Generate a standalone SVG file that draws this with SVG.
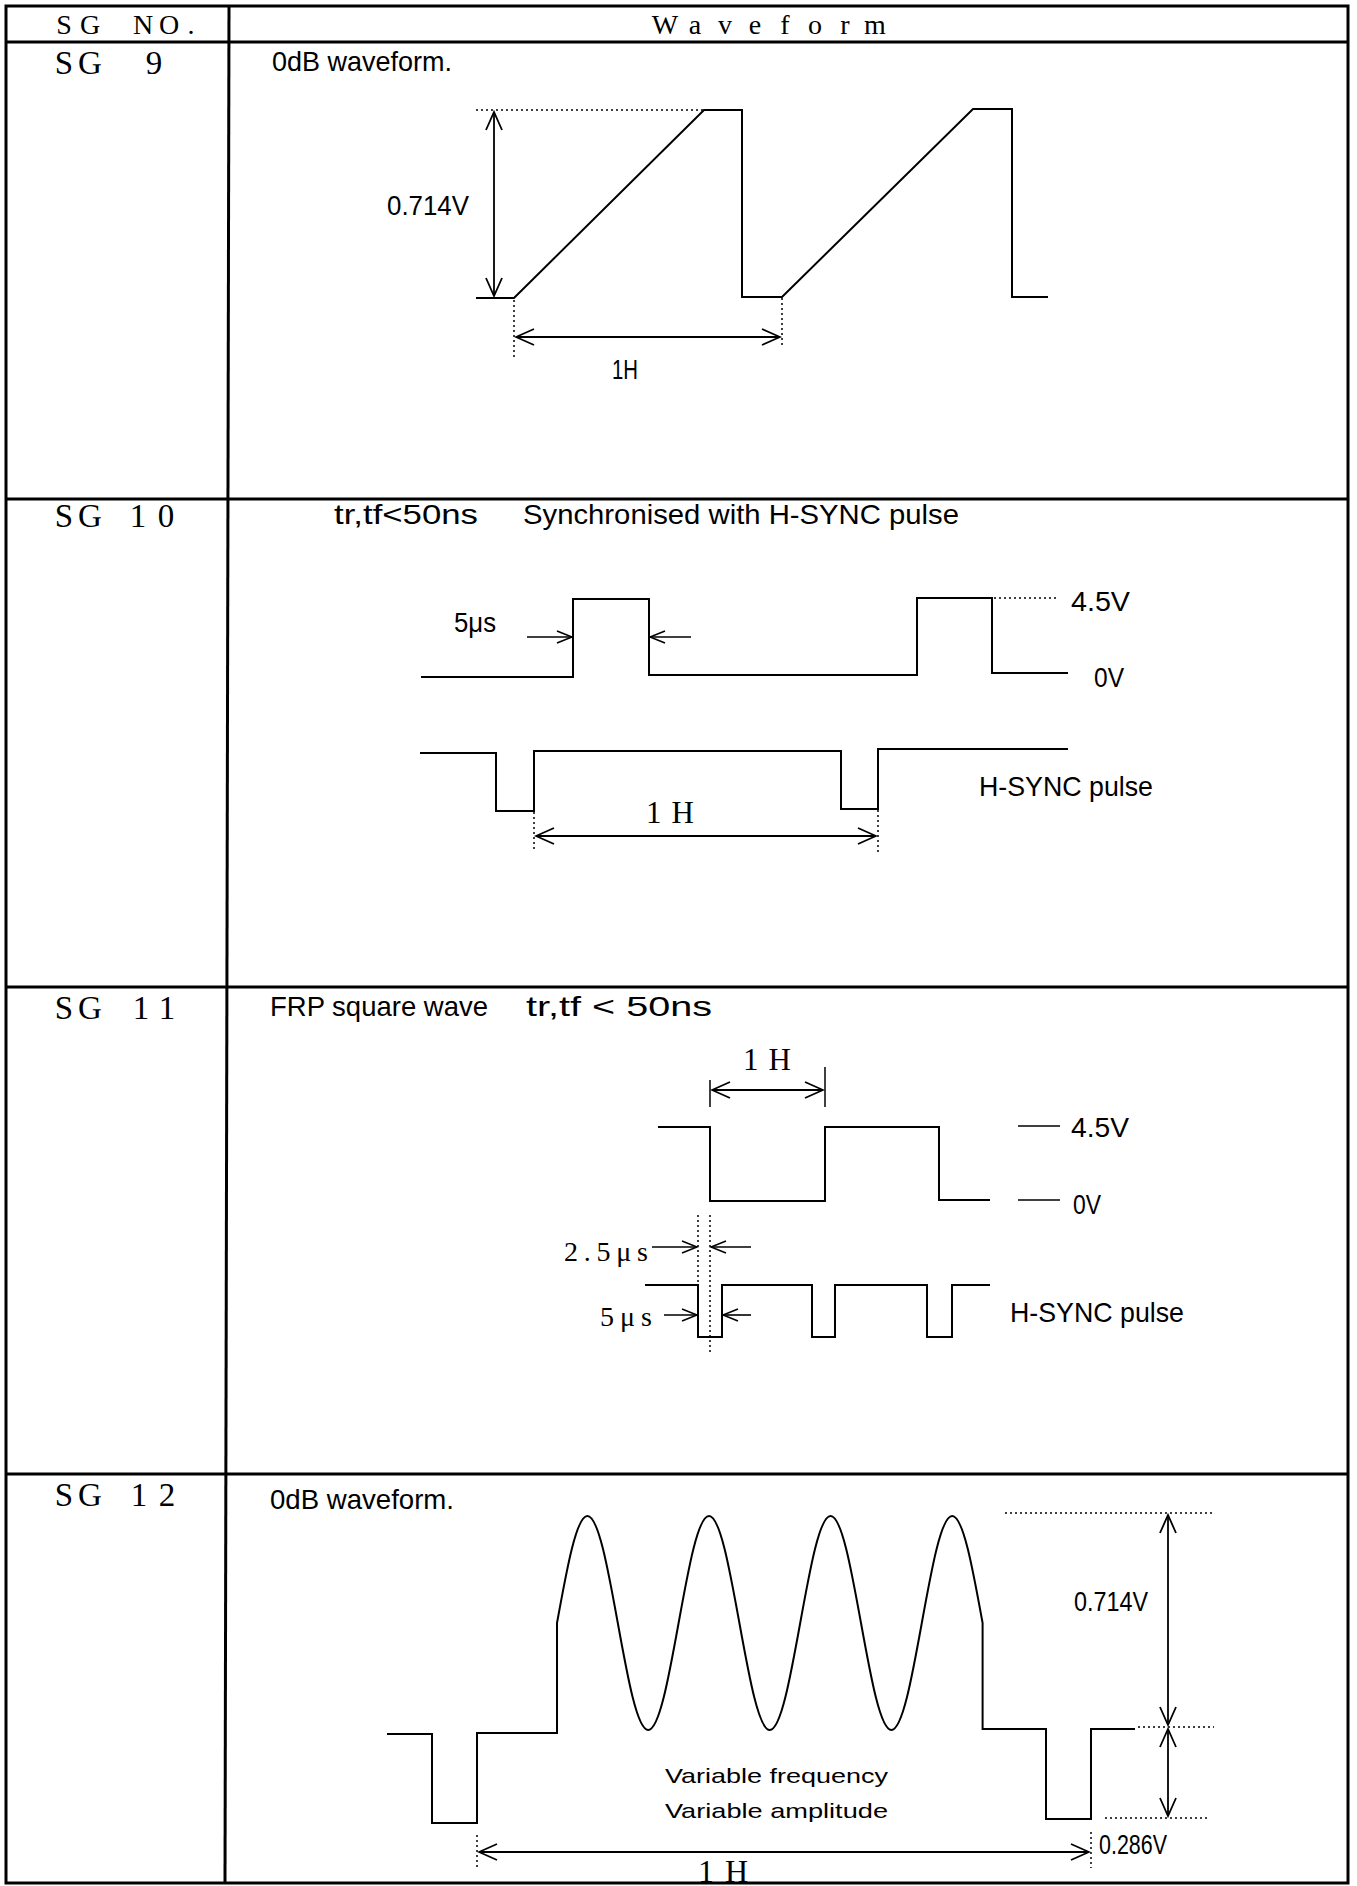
<svg xmlns="http://www.w3.org/2000/svg" width="1357" height="1886" viewBox="0 0 1357 1886">
<style>
.t{font-family:"Liberation Sans Narrow","Liberation Sans",sans-serif;font-size:28px;fill:#000}
.v{font-family:"Liberation Sans Narrow","Liberation Sans",sans-serif;font-size:21px;fill:#000}
.s{font-family:"Liberation Serif",serif;fill:#000}
.lab{font-size:33px;text-anchor:middle}
.hd{font-size:28px;text-anchor:middle}
.grid{fill:none;stroke:#000;stroke-width:3}
.w{fill:none;stroke:#000;stroke-width:2;stroke-linejoin:miter}
.d{fill:none;stroke:#000;stroke-width:1.5;stroke-dasharray:2 3}
.a2{fill:none;stroke:#000;stroke-width:1.8;marker-start:url(#ah);marker-end:url(#ah)}
.a1{fill:none;stroke:#000;stroke-width:1.6;marker-end:url(#ahs)}
.tk{fill:none;stroke:#000;stroke-width:1.5}
</style>
<defs>
<marker id="ah" viewBox="-20 -10 22 20" refX="0" refY="0" markerWidth="22" markerHeight="20" markerUnits="userSpaceOnUse" orient="auto-start-reverse">
<path d="M-18,-8 L0,0 L-18,8" fill="none" stroke="#000" stroke-width="1.8"/>
</marker>
<marker id="ahs" viewBox="-20 -10 22 20" refX="0" refY="0" markerWidth="22" markerHeight="20" markerUnits="userSpaceOnUse" orient="auto">
<path d="M-15,-6 L0,0 L-15,6" fill="none" stroke="#000" stroke-width="1.6"/>
</marker>
</defs>
<rect width="1357" height="1886" fill="#fff"/>

<g id="table">
<rect class="grid" x="6" y="6" width="1342" height="1877"/>
<line class="grid" x1="229" y1="6" x2="225" y2="1883"/>
<line class="grid" x1="6" y1="42" x2="1348" y2="42"/>
<line class="grid" x1="6" y1="499" x2="1348" y2="499"/>
<line class="grid" x1="6" y1="987" x2="1348" y2="987"/>
<line class="grid" x1="6" y1="1474" x2="1348" y2="1474"/>
</g>

<g id="header">
<text class="s hd" x="64 90 120 143 169 191" y="34">SG NO.</text>
<text class="s hd" x="665 695 725 755 785 815 845 875" y="34">Waveform</text>
</g>

<g id="sg9">
<text class="s lab" x="64 90 120 154" y="74">SG 9</text>
<text class="t" x="272" y="71" textLength="180" lengthAdjust="spacingAndGlyphs">0dB waveform.</text>
<line class="d" x1="476" y1="110" x2="704" y2="110"/>
<path class="w" d="M476 298 H514 L704 110 H742 V297 H782 L973 109 H1012 V297 H1048"/>
<line class="a2" x1="494" y1="112" x2="494" y2="296"/>
<line class="d" x1="514" y1="300" x2="514" y2="357"/>
<line class="d" x1="782" y1="298" x2="782" y2="348"/>
<line class="a2" x1="516" y1="337" x2="780" y2="337"/>
<text class="t" x="387" y="215" textLength="82" lengthAdjust="spacingAndGlyphs">0.714V</text>
<text class="t" x="612" y="379" textLength="26" lengthAdjust="spacingAndGlyphs">1H</text>
</g>

<g id="sg10">
<text class="s lab" x="64 90 120 138 166" y="527">SG 10</text>
<text class="t" x="334" y="524" textLength="144" lengthAdjust="spacingAndGlyphs">tr,tf&lt;50ns</text>
<text class="t" x="523" y="524" textLength="436" lengthAdjust="spacingAndGlyphs">Synchronised with H-SYNC pulse</text>
<path class="w" d="M421 677 H573 V599 H649 V675 H917 V598 H992 V673 H1068"/>
<line class="d" x1="994" y1="598" x2="1059" y2="598"/>
<text class="t" x="1071" y="611" textLength="59" lengthAdjust="spacingAndGlyphs">4.5V</text>
<text class="t" x="1094" y="687" textLength="30" lengthAdjust="spacingAndGlyphs">0V</text>
<text class="t" x="454" y="632" textLength="42" lengthAdjust="spacingAndGlyphs">5μs</text>
<line class="a1" x1="527" y1="637" x2="572" y2="637"/>
<line class="a1" x1="691" y1="637" x2="650" y2="637"/>
<path class="w" d="M420 753 H496 V811 H534 V751 H841 V809 H878 V749 H1068"/>
<text class="t" x="979" y="796" textLength="174" lengthAdjust="spacingAndGlyphs">H-SYNC pulse</text>
<text class="s" x="646" y="823" font-size="31" textLength="48" lengthAdjust="spacing">1 H</text>
<line class="d" x1="534" y1="812" x2="534" y2="852"/>
<line class="d" x1="878" y1="810" x2="878" y2="853"/>
<line class="a2" x1="536" y1="836" x2="876" y2="836"/>
</g>

<g id="sg11">
<text class="s lab" x="64 90 120 141 167" y="1019">SG 11</text>
<text class="t" x="270" y="1016" textLength="218" lengthAdjust="spacingAndGlyphs">FRP square wave</text>
<text class="t" x="526" y="1016" textLength="186" lengthAdjust="spacingAndGlyphs">tr,tf &lt; 50ns</text>
<text class="s" x="743" y="1070" font-size="31" textLength="48" lengthAdjust="spacing">1 H</text>
<line class="tk" x1="710" y1="1080" x2="710" y2="1107"/>
<line class="tk" x1="825" y1="1067" x2="825" y2="1107"/>
<line class="a2" x1="712" y1="1090" x2="823" y2="1090"/>
<path class="w" d="M658 1127 H710 V1201 H825 V1127 H939 V1200 H990"/>
<line class="tk" x1="1018" y1="1126" x2="1060" y2="1126"/>
<line class="tk" x1="1018" y1="1200" x2="1060" y2="1200"/>
<text class="t" x="1071" y="1137" textLength="58" lengthAdjust="spacingAndGlyphs">4.5V</text>
<text class="t" x="1073" y="1214" textLength="28" lengthAdjust="spacingAndGlyphs">0V</text>
<line class="d" x1="698" y1="1215" x2="698" y2="1340"/>
<line class="d" x1="710" y1="1215" x2="710" y2="1352"/>
<text class="s" x="564" y="1261" font-size="28" textLength="84" lengthAdjust="spacing">2.5μs</text>
<line class="a1" x1="652" y1="1247" x2="697" y2="1247"/>
<line class="a1" x1="751" y1="1247" x2="711" y2="1247"/>
<path class="w" d="M645 1285 H698 V1337 H722 V1285 H812 V1337 H835 V1285 H927 V1337 H952 V1285 H990"/>
<text class="s" x="600" y="1326" font-size="28" textLength="52" lengthAdjust="spacing">5μs</text>
<line class="a1" x1="664" y1="1315" x2="697" y2="1315"/>
<line class="a1" x1="751" y1="1315" x2="723" y2="1315"/>
<text class="t" x="1010" y="1322" textLength="174" lengthAdjust="spacingAndGlyphs">H-SYNC pulse</text>
</g>

<g id="sg12">
<text class="s lab" x="64 90 120 139 167" y="1506">SG 12</text>
<text class="t" x="270" y="1509" textLength="184" lengthAdjust="spacingAndGlyphs">0dB waveform.</text>
<path class="w" d="M387 1734 H432 V1823 H477 V1733 H557 V1623
c 9.92,-54.8 19.41,-107 30.4,-107 c 11,0 20.48,52.2 30.4,107 c 9.92,54.8 19.41,107 30.4,107 c 11,0 20.48,-52.2 30.4,-107
c 9.92,-54.8 19.41,-107 30.4,-107 c 11,0 20.48,52.2 30.4,107 c 9.92,54.8 19.41,107 30.4,107 c 11,0 20.48,-52.2 30.4,-107
c 9.92,-54.8 19.41,-107 30.4,-107 c 11,0 20.48,52.2 30.4,107 c 9.92,54.8 19.41,107 30.4,107 c 11,0 20.48,-52.2 30.4,-107
c 9.92,-54.8 19.41,-107 30.4,-107 c 11,0 20.48,52.2 30.4,107
V1729 H1046 V1819 H1091 V1729 H1135"/>
<line class="d" x1="1005" y1="1513" x2="1214" y2="1513"/>
<line class="d" x1="1138" y1="1727" x2="1214" y2="1727"/>
<line class="d" x1="1105" y1="1818" x2="1209" y2="1818"/>
<line class="a2" x1="1168" y1="1515" x2="1168" y2="1725"/>
<line class="a2" x1="1168" y1="1729" x2="1168" y2="1816"/>
<text class="t" x="1074" y="1611" textLength="74" lengthAdjust="spacingAndGlyphs">0.714V</text>
<text class="t" x="1099" y="1854" textLength="68" lengthAdjust="spacingAndGlyphs">0.286V</text>
<text class="v" x="665" y="1783" textLength="223" lengthAdjust="spacingAndGlyphs">Variable frequency</text>
<text class="v" x="665" y="1818" textLength="223" lengthAdjust="spacingAndGlyphs">Variable amplitude</text>
<line class="d" x1="477" y1="1835" x2="477" y2="1868"/>
<line class="d" x1="1091" y1="1832" x2="1091" y2="1868"/>
<line class="a2" x1="479" y1="1852" x2="1089" y2="1852"/>
<text class="s" x="698" y="1882" font-size="32" textLength="50" lengthAdjust="spacing">1 H</text>
</g>
</svg>
